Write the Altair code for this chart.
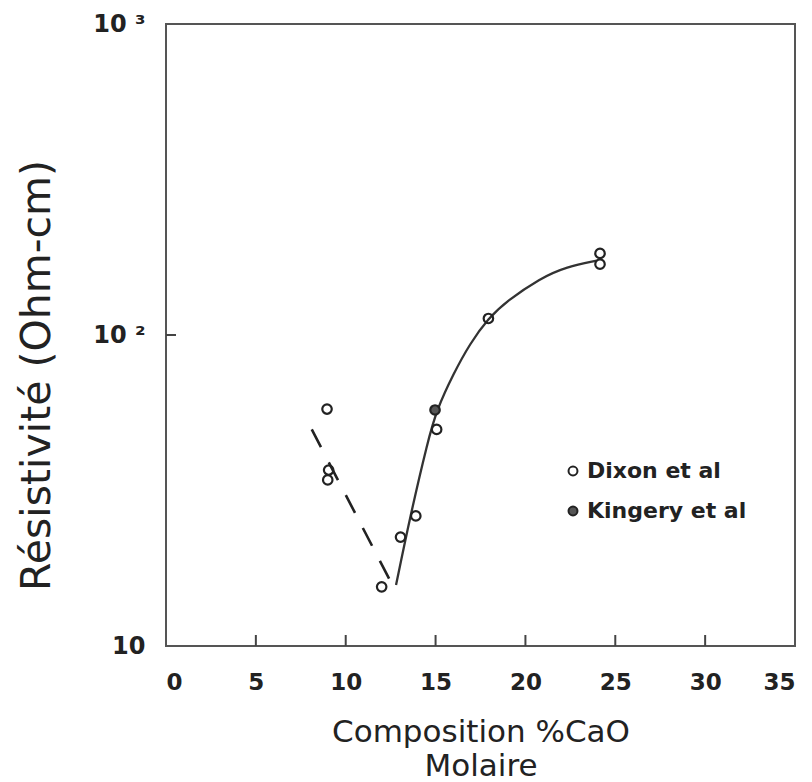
import altair as alt
import pandas as pd

# Dixon et al. measurements (mol % CaO, resistivity in ohm-cm)
dixon_cao = [8.96, 9.05, 9.0, 12.0, 13.05, 13.9, 15.06, 17.94, 24.15, 24.15]
dixon_rho = [57.8, 36.8, 34.2, 15.5, 22.4, 26.2, 49.7, 113.0, 183.0, 169.0]

# Kingery et al. measurement
kingery_cao = [14.97]
kingery_rho = [57.4]

# Solid trend through the high-CaO branch
fit_cao = [12.80, 13.58, 14.58, 15.06, 15.99, 16.92, 17.94, 18.96, 20.81, 22.30, 23.97]
fit_rho = [15.7, 26.0, 45.9, 57.4, 75.0, 94.0, 113.2, 128.5, 152.2, 165.9, 173.4]

# Dashed low-CaO branch
dash_cao = [8.11, 12.65]
dash_rho = [49.7, 15.5]

# Axis tick values
x_ticks = [0, 5, 10, 15, 20, 25, 30, 35]
x_inner_ticks = [5, 10, 15, 20, 25, 30]
y_ticks = [10, 100, 1000]

FONT = "DejaVu Sans"
INK = "#222222"
W, H = 629, 622

points = pd.DataFrame({
    "cao": dixon_cao + kingery_cao,
    "rho": dixon_rho + kingery_rho,
    "source": ["Dixon et al"] * len(dixon_cao) + ["Kingery et  al"] * len(kingery_cao),
})
fit = pd.DataFrame({"cao": fit_cao, "rho": fit_rho})
dash = pd.DataFrame({"cao": dash_cao, "rho": dash_rho})

xscale = alt.Scale(domain=[0, 35], nice=False, zero=False)
yscale = alt.Scale(type="log", domain=[10, 1000], nice=False)

x_enc = alt.X(
    "cao:Q", scale=xscale,
    axis=alt.Axis(
        values=x_ticks, format="d", domain=False, ticks=False, grid=False,
        labelFont=FONT, labelFontSize=23, labelFontWeight="bold", labelColor=INK,
        labelPadding=25,
        title=["Composition %CaO", "Molaire"], titleFont=FONT, titleFontSize=31,
        titleFontWeight="normal", titleColor=INK, titleLineHeight=34,
        titleBaseline="middle", titleX=W / 2, titleY=86,
    ),
)
y_enc = alt.Y(
    "rho:Q", scale=yscale,
    axis=alt.Axis(
        values=y_ticks, domain=False, ticks=False, grid=False,
        labelExpr="datum.value == 10 ? '10' : datum.value == 100 ? '10 ²' : '10 ³'",
        labelFont=FONT, labelFontSize=24, labelFontWeight="bold", labelColor=INK,
        labelPadding=21,
        title="Résistivité (Ohm-cm)", titleFont=FONT, titleFontSize=41,
        titleFontWeight="normal", titleColor=INK, titleAngle=270,
        titleBaseline="middle", titleX=-129, titleY=351,
    ),
)

trend = alt.Chart(fit).mark_line(
    color="#333333", strokeWidth=2.3, interpolate="basis"
).encode(x=x_enc, y=y_enc)

low_branch = alt.Chart(dash).mark_line(
    color=INK, strokeWidth=2.6, strokeDash=[20, 17]
).encode(x="cao:Q", y="rho:Q")

markers = alt.Chart(points).mark_point(
    shape="circle", size=90, filled=True, stroke=INK, strokeWidth=2.2, opacity=1
).encode(
    x="cao:Q", y="rho:Q",
    fill=alt.Fill(
        "source:N",
        scale=alt.Scale(domain=["Dixon et al", "Kingery et  al"], range=["transparent", "#555555"]),
        legend=alt.Legend(
            title=None, orient="none", legendX=396, legendY=436,
            labelFont=FONT, labelFontSize=22, labelFontWeight="bold", labelColor=INK,
            labelOffset=3, labelLimit=0, symbolSize=80, symbolStrokeColor=INK,
            symbolStrokeWidth=2, rowPadding=18,
        ),
    ),
)

# Inward tick marks along the bottom and left frame
xt = alt.Chart(pd.DataFrame({"cao": x_inner_ticks})).mark_rule(
    color="#444444", strokeWidth=2
).encode(x="cao:Q", y=alt.value(H), y2=alt.value(H - 11))

yt = alt.Chart(pd.DataFrame({"rho": [100]})).mark_rule(
    color="#444444", strokeWidth=2
).encode(y="rho:Q", x=alt.value(0), x2=alt.value(10))

chart = alt.layer(trend, low_branch, xt, yt, markers).properties(
    width=W, height=H,
    autosize=alt.AutoSizeParams(type="none"),
    padding={"left": 166, "top": 24, "right": 17, "bottom": 136},
    background="white",
).configure_view(
    stroke="#555555", strokeWidth=2
)

chart.save("out.html", embed_options={"renderer": "svg", "actions": False})
